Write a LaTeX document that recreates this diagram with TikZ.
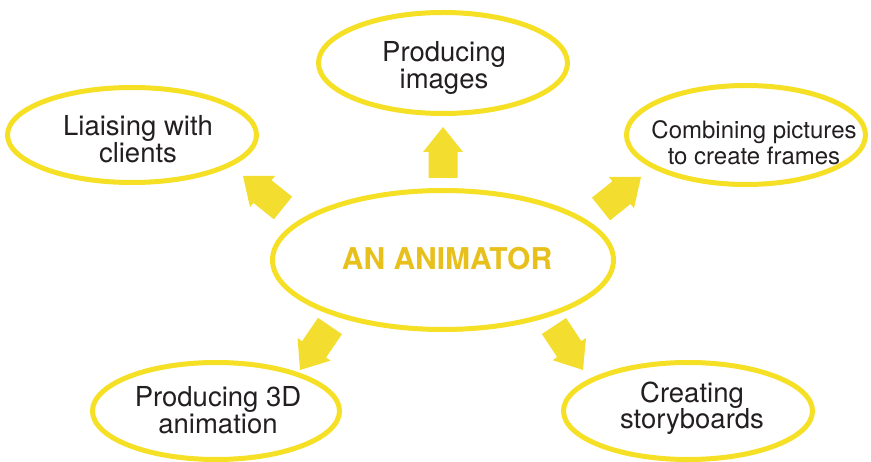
\documentclass[tikz,border=0pt]{standalone}
\usepackage{fontspec}
\setmainfont{TeX Gyre Heros}
\usetikzlibrary{shapes.geometric,calc}
\definecolor{ylw}{RGB}{245,224,38}
\definecolor{arrowylw}{RGB}{243,222,48}
\definecolor{gold}{RGB}{232,192,28}
\definecolor{ink}{RGB}{35,31,32}
\newcommand\myfatarrow[2]{%
  \path ($(#2)!25pt!(#1)$) coordinate (hb);
  \fill[arrowylw] ($(#1)!14.5pt!90:(#2)$) -- ($(hb)!14.5pt!-90:(#1)$) -- ($(hb)!20pt!-90:(#1)$) -- (#2) -- ($(hb)!20pt!90:(#1)$) -- ($(hb)!14.5pt!90:(#1)$) -- ($(#1)!14.5pt!-90:(#2)$) -- cycle;}
\begin{document}
\begin{tikzpicture}[x=1pt,y=-1pt,
  bubble/.style={ellipse, draw=ylw, line width=5pt, inner sep=0pt, minimum width=249pt, minimum height=97pt},
  btext/.style={inner sep=0pt, align=center, text=ink, font=\fontsize{27.5}{26.5}\selectfont},
]
\useasboundingbox (0,0) rectangle (871,462);
\fill[white] (0,0) rectangle (871,462);

% ellipses
\node[bubble, minimum width=341pt, minimum height=139pt] (center) at (443,260) {};
\node[bubble, minimum height=95pt] (liais) at (132,135) {};
\node[bubble, minimum height=101pt] (images) at (443,63) {};
\node[bubble, minimum width=239pt, minimum height=99pt] (comb) at (746,135) {};
\node[bubble, minimum width=247pt] (threed) at (216,411) {};
\node[bubble] (story) at (688,411) {};

% texts
\node[btext, text=gold, font=\fontsize{30}{32}\selectfont\bfseries] (centert) at (447,259) {AN ANIMATOR};
\node[btext] (liaist) at (138,139) {Liaising with\\clients};
\node[btext] (imagest) at (444,68) {Producing\\images};
\node[btext, font=\fontsize{24}{26.5}\selectfont] (combt) at (754,142.5) {Combining pictures\\to create frames};
\node[btext] (threedt) at (218,410) {Producing 3D\\animation};
\node[btext] (storyt) at (692,408) {Creating\\storyboards};

% arrows
\coordinate (a1) at (283,208); \coordinate (b1) at (243,176);
\coordinate (a2) at (443,178); \coordinate (b2) at (443,127);
\coordinate (a3) at (601,209); \coordinate (b3) at (641,177);
\coordinate (a4) at (330,326); \coordinate (b4) at (300,370);
\coordinate (a5) at (554,326); \coordinate (b5) at (583,370);
\myfatarrow{a1}{b1}
\myfatarrow{a2}{b2}
\myfatarrow{a3}{b3}
\myfatarrow{a4}{b4}
\myfatarrow{a5}{b5}
\end{tikzpicture}
\end{document}
